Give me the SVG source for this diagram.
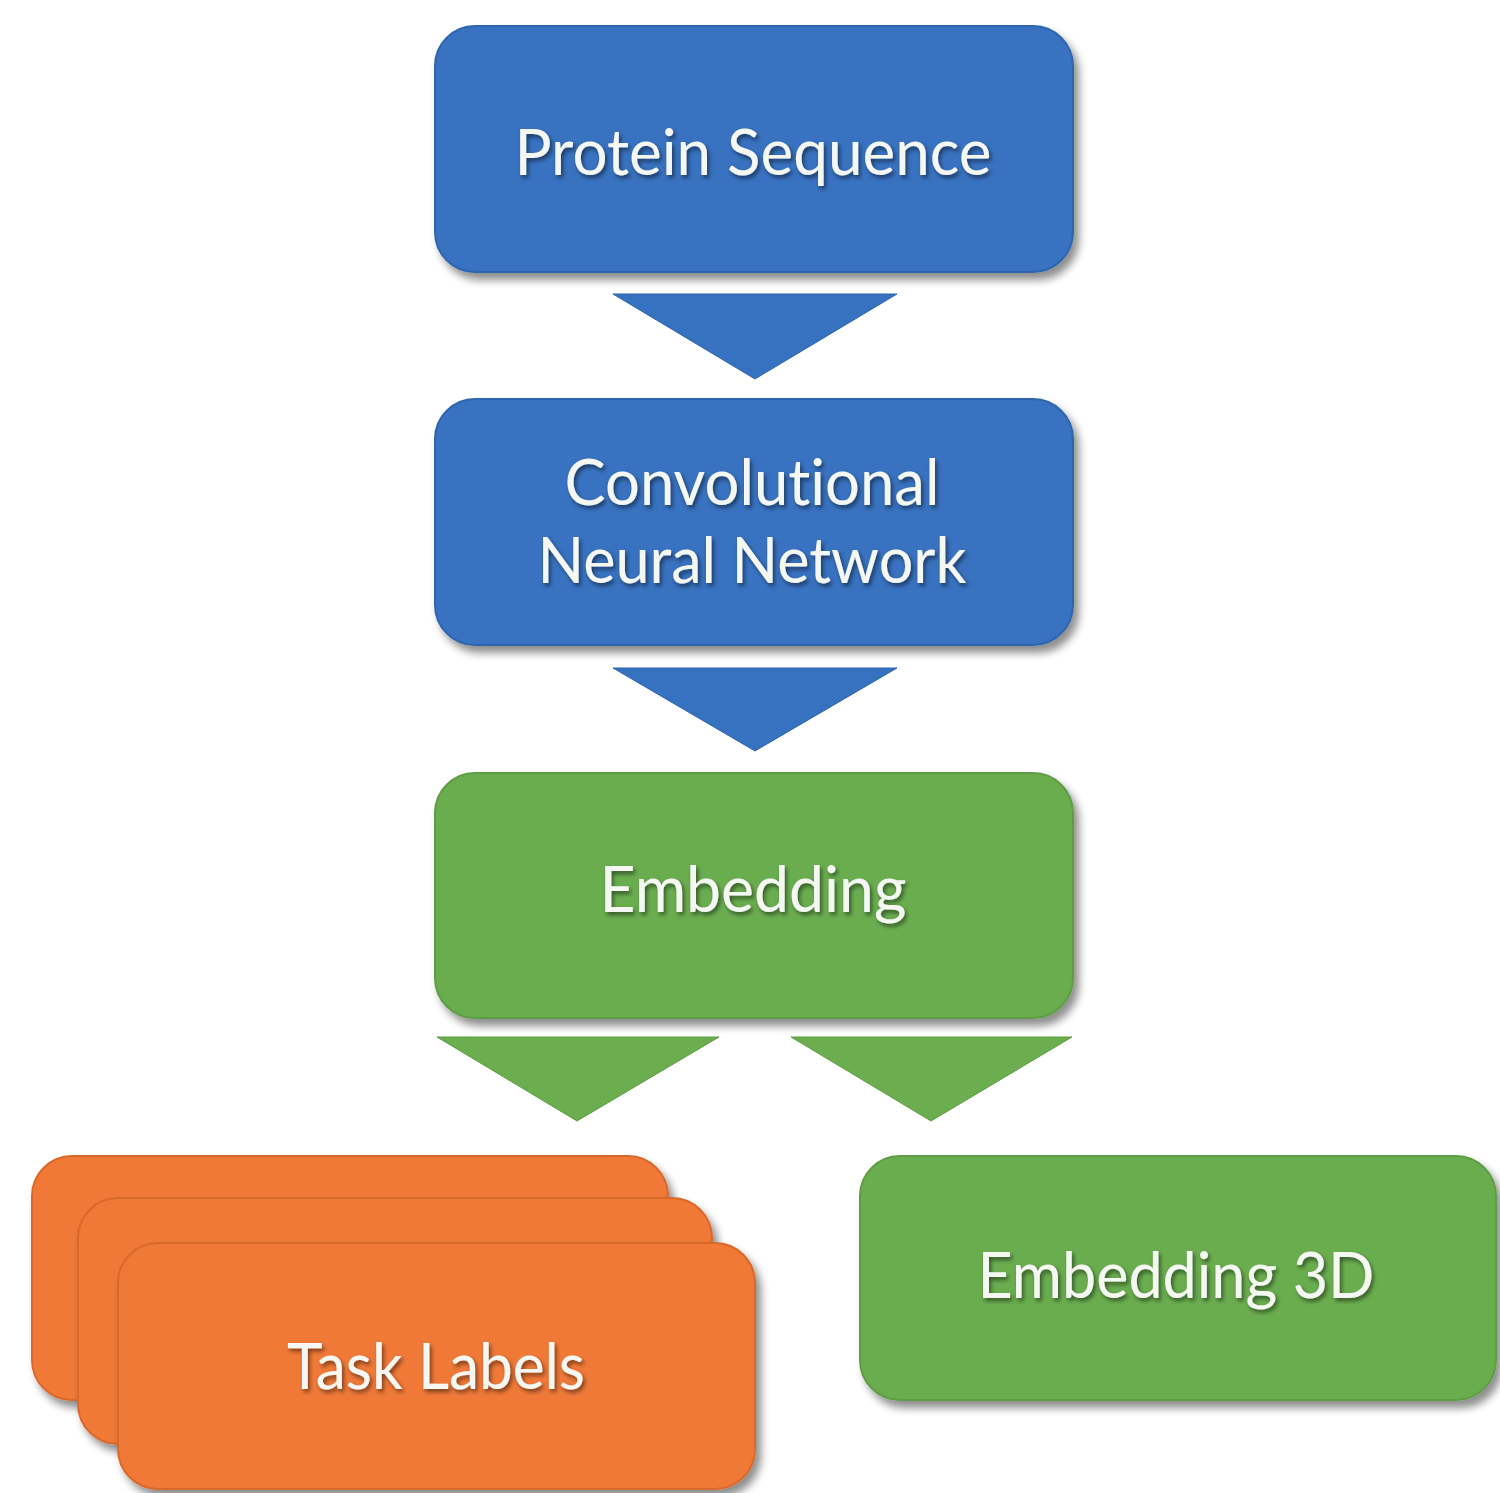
<svg xmlns="http://www.w3.org/2000/svg" width="1500" height="1493" viewBox="0 0 1500 1493">
<defs>
<filter id="sh" x="-10%" y="-10%" width="125%" height="130%">
<feGaussianBlur in="SourceAlpha" stdDeviation="4"/>
<feOffset dx="5" dy="7" result="b"/>
<feComponentTransfer><feFuncA type="linear" slope="0.45"/></feComponentTransfer>
<feMerge><feMergeNode/><feMergeNode in="SourceGraphic"/></feMerge>
</filter>
<filter id="tsh" x="-5%" y="-20%" width="115%" height="150%">
<feGaussianBlur in="SourceAlpha" stdDeviation="2"/>
<feOffset dx="2" dy="3"/>
<feComponentTransfer><feFuncA type="linear" slope="0.5"/></feComponentTransfer>
<feMerge><feMergeNode/><feMergeNode in="SourceGraphic"/></feMerge>
</filter>
</defs>
<style>
.blue{fill:#3772C0;stroke:#2F65AD;stroke-width:2}
.green{fill:#6BAD4F;stroke:#5E9C44;stroke-width:2}
.orange{fill:#F07937;stroke:#D9692C;stroke-width:2}
.tri{stroke-width:1}
.lbl{font-family:Lato,"Open Sans","Liberation Sans",sans-serif;font-size:64px;fill:#F4F7F2;text-anchor:middle;font-variant-ligatures:none}
</style>
<rect width="1500" height="1493" fill="#ffffff"/>
<g id="connectors">
<polygon class="blue tri" points="613,294 897,294 755,379"/>
<polygon class="blue tri" points="613,668 897,668 755,751"/>
<polygon class="green tri" points="437,1037 719,1037 577,1121"/>
<polygon class="green tri" points="791,1037 1072,1037 931,1121"/>
</g>
<g id="protein-sequence">
<rect class="blue" x="435" y="26" width="638" height="246" rx="40" filter="url(#sh)"/>
<text class="lbl" x="753" y="175" textLength="477" lengthAdjust="spacingAndGlyphs" filter="url(#tsh)">Protein Sequence</text>
</g>
<g id="cnn">
<rect class="blue" x="435" y="399" width="638" height="246" rx="40" filter="url(#sh)"/>
<text class="lbl" x="752" y="505" textLength="375" lengthAdjust="spacingAndGlyphs" filter="url(#tsh)">Convolutional</text>
<text class="lbl" x="752" y="583" textLength="429" lengthAdjust="spacingAndGlyphs" filter="url(#tsh)">Neural Network</text>
</g>
<g id="embedding">
<rect class="green" x="435" y="773" width="638" height="245" rx="40" filter="url(#sh)"/>
<text class="lbl" x="753" y="912" textLength="307" lengthAdjust="spacingAndGlyphs" filter="url(#tsh)">Embedding</text>
</g>
<g id="task-labels">
<rect class="orange" x="32" y="1156" width="636" height="244" rx="40" filter="url(#sh)"/>
<rect class="orange" x="78" y="1198" width="634" height="246" rx="40" filter="url(#sh)"/>
<rect class="orange" x="118" y="1243" width="637" height="246" rx="40" filter="url(#sh)"/>
<text class="lbl" x="436" y="1389" textLength="298" lengthAdjust="spacingAndGlyphs" filter="url(#tsh)">Task Labels</text>
</g>
<g id="embedding-3d">
<rect class="green" x="860" y="1156" width="636" height="244" rx="40" filter="url(#sh)"/>
<text class="lbl" x="1176" y="1298" textLength="397" lengthAdjust="spacingAndGlyphs" filter="url(#tsh)">Embedding 3D</text>
</g>
</svg>
